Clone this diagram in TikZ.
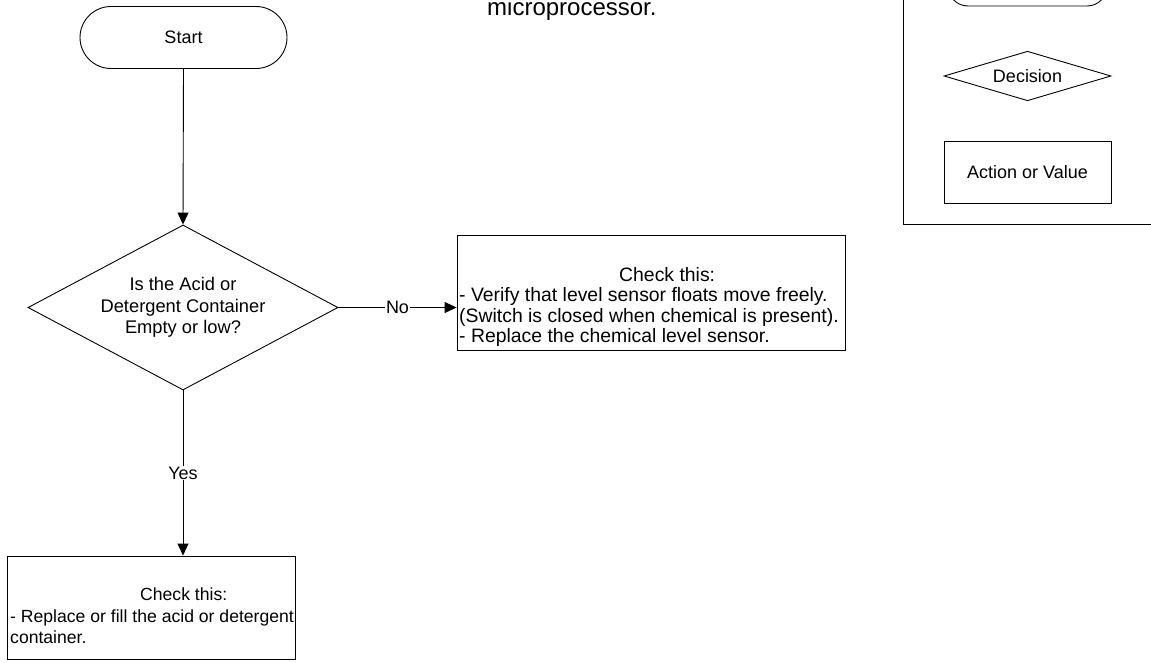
\documentclass[tikz,border=0pt]{standalone}
\usepackage{fontspec}
\setmainfont{Liberation Sans}
\usetikzlibrary{shapes.geometric,arrows.meta}

\tikzset{
  base/.style={draw=black, line width=0.9pt, inner sep=0pt, font=\fontsize{18}{21}\selectfont},
  terminal/.style={base, rectangle, rounded corners=#1},
  decision/.style={base, diamond, shape aspect=1.9},
  action/.style={base, rectangle},
  txt/.style={inner sep=0pt, align=left, font=\fontsize{19.4}{20.5}\selectfont},
  flow/.style={draw=black, line width=0.9pt, -{Triangle[length=12pt,width=11pt]}},
  lbl/.style={fill=white, inner sep=1pt, font=\fontsize{18}{21}\selectfont},
}

\begin{document}
\begin{tikzpicture}[x=1pt, y=-1pt]
  \useasboundingbox (0,0) rectangle (1151,662);
  \clip (0,0) rectangle (1151,662);

  % last line of the note above the chart
  \node[inner sep=0pt, anchor=base west, font=\fontsize{24}{28}\selectfont] (note) at (487,15.5) {microprocessor.};

  % main flow
  \node[terminal=31pt, minimum width=207pt, minimum height=62pt] (start) at (183.5,37.5) {Start};
  \node[decision, minimum width=310pt, minimum height=165pt, align=center,
        font=\fontsize{18.3}{21.5}\selectfont] (dec) at (183,307.5)
        {Is the Acid or\\Detergent Container\\Empty or low?};
  \node[action, minimum width=388pt, minimum height=115pt] (chkno) at (651,292.5) {};
  \node[txt, anchor=north west] (chknotxt) at (459,267)
        {\hspace*{160pt}Check this:\\
         - Verify that level sensor floats move freely.\\
         (Switch is closed when chemical is present).\\
         - Replace the chemical level sensor.};
  \node[action, minimum width=288pt, minimum height=103pt] (chkyes) at (151,607.5) {};
  \node[txt, anchor=north west, font=\fontsize{17.6}{21.5}\selectfont] (chkyestxt) at (10,588)
        {\hspace*{130pt}Check this:\\
         - Replace or fill the acid or detergent\\
         container.};

  \draw[flow] (start.south) -- (dec.north);
  \draw[flow] (dec.east) -- node[lbl] (no) {No} (dec.east -| chkno.west);
  \draw[flow] (dec.south) -- node[lbl] (yes) {Yes} (dec.south |- chkyes.north);

  % legend
  \node[draw=black, line width=0.9pt, minimum width=270pt, minimum height=260pt, inner sep=0pt,
        anchor=south west] (legend) at (903,225) {};
  \node[terminal=20pt, minimum width=159pt, minimum height=40pt] (lgterm) at (1027.5,-14) {};
  \node[decision, minimum width=167pt, minimum height=46pt] (lgdec) at (1027.5,76) {Decision};
  \node[action, minimum width=167pt, minimum height=62pt] (lgact) at (1027.5,172) {Action or Value};
\end{tikzpicture}
\end{document}
